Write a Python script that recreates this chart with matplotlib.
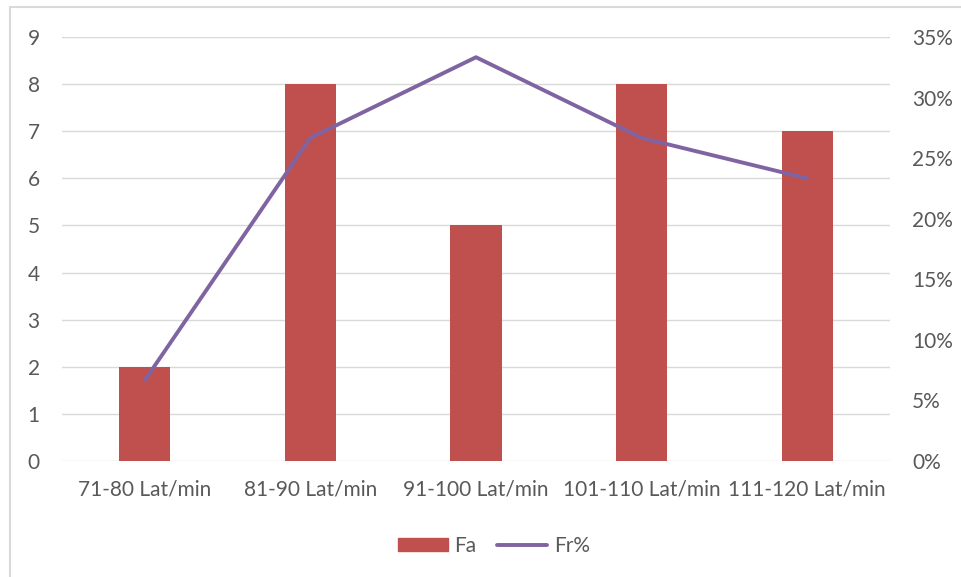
import matplotlib
matplotlib.use("Agg")
import matplotlib.pyplot as plt
from matplotlib.patches import Rectangle
from matplotlib.lines import Line2D
from matplotlib.ticker import FuncFormatter, MultipleLocator

categories = ["71-80 Lat/min", "81-90 Lat/min", "91-100 Lat/min", "101-110 Lat/min", "111-120 Lat/min"]
fa = [2, 8, 5, 8, 7]
fr_pct = [0.0667, 0.2667, 0.3333, 0.2667, 0.2333]

bar_color = "#C0504D"
line_color = "#8064A2"
grid_color = "#D9D9D9"
text_color = "#595959"
fs = 15

plt.rcParams["font.family"] = ["Lato", "DejaVu Sans"]

W, H = 961, 577
fig = plt.figure(figsize=(W / 100, H / 100), dpi=100)

# outer chart frame
fig.patches.append(Rectangle((10 / W, -0.05), 1.2, 1 - 7 / H + 0.05,
                             transform=fig.transFigure, fill=False,
                             edgecolor=grid_color, linewidth=1.5, zorder=0))

ax = fig.add_axes([62 / W, 1 - 461 / H, (890 - 62) / W, (461 - 37) / H])
x = range(len(categories))
ax.bar(x, fa, width=0.31, color=bar_color, zorder=2)
ax.set_xlim(-0.5, len(categories) - 0.5)
ax.set_ylim(0, 9)
ax.yaxis.set_major_locator(MultipleLocator(1))
ax.grid(axis="y", color=grid_color, linewidth=1, zorder=0)
ax.set_axisbelow(True)
for s in ax.spines.values():
    s.set_visible(False)
ax.set_xticks(list(x))
ax.set_xticklabels(categories)
ax.tick_params(axis="both", length=0, colors=text_color, labelsize=fs)
ax.tick_params(axis="x", pad=13)
ax.tick_params(axis="y", pad=16)

ax2 = ax.twinx()
ax2.plot(list(x), fr_pct, color=line_color, linewidth=2.8, solid_capstyle="round", zorder=3)
ax2.set_ylim(0, 0.35)
ax2.yaxis.set_major_locator(MultipleLocator(0.05))
ax2.yaxis.set_major_formatter(FuncFormatter(lambda v, p: f"{v * 100:.0f}%"))
for s in ax2.spines.values():
    s.set_visible(False)
ax2.tick_params(axis="y", length=0, colors=text_color, labelsize=fs, pad=16)

handles = [Rectangle((0, 0), 1, 1, color=bar_color),
           Line2D([0], [0], color=line_color, linewidth=2.8, solid_capstyle="round")]
fig.legend(handles, ["Fa", "Fr%"], loc="center", bbox_to_anchor=(494 / W, 1 - 546 / H),
           ncol=2, frameon=False, fontsize=fs, labelcolor=text_color,
           handlelength=2.4, handleheight=0.6, handletextpad=0.3, columnspacing=1.0)

fig.savefig("out.png", dpi=100)
